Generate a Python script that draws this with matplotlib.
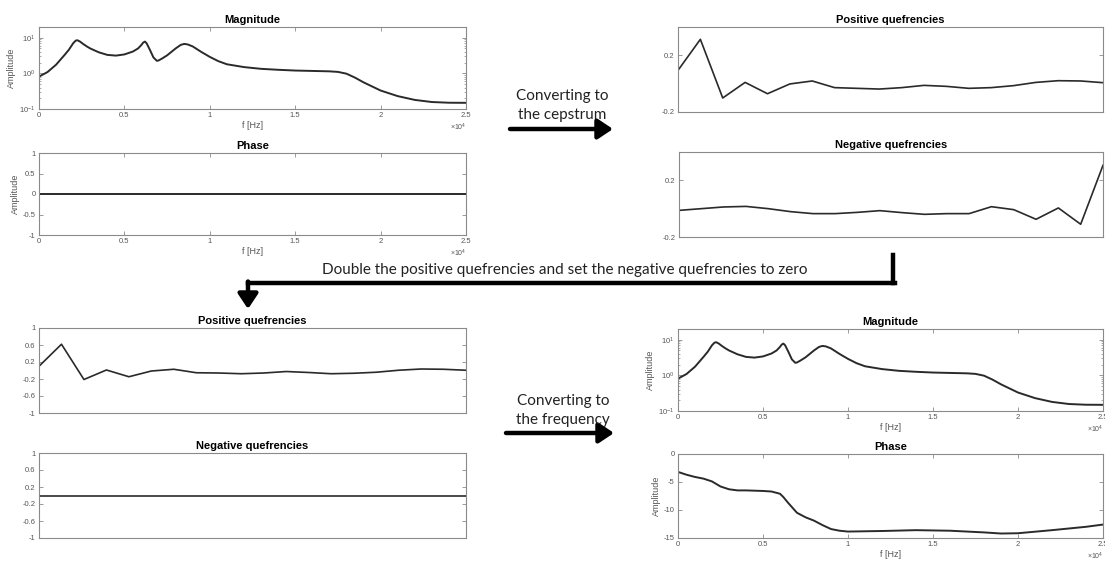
import matplotlib.pyplot as plt
from matplotlib.patches import FancyArrowPatch
from matplotlib.lines import Line2D

plt.rcParams['font.family'] = ['Liberation Sans', 'DejaVu Sans']
plt.rcParams['mathtext.fontset'] = 'custom'
plt.rcParams['mathtext.rm'] = 'Liberation Sans'
plt.rcParams['mathtext.it'] = 'Liberation Sans:italic'
plt.rcParams['axes.unicode_minus'] = False

# ---- dados ----
freq_mag = [0, 500, 1000, 1500, 1750, 2000, 2150, 2250, 2400, 2600, 2800, 3000,
            3500, 4000, 4500, 5000, 5500, 5800, 6000, 6100, 6200, 6300, 6500,
            6700, 6900, 7000, 7200, 7500, 8000, 8300, 8500, 8700, 9000, 9500,
            10000, 10500, 11000, 12000, 13000, 14000, 15000, 16000, 17000,
            17500, 18000, 18500, 19000, 19500, 20000, 21000, 22000, 23000,
            24000, 25000]
magnitude = [0.81, 1.09, 1.75, 3.3, 4.6, 7.0, 8.3, 8.5, 7.8, 6.6, 5.7, 5.0,
             3.9, 3.3, 3.15, 3.4, 4.1, 5.0, 6.3, 7.3, 7.8, 7.0, 4.5,
             2.8, 2.25, 2.3, 2.6, 3.2, 5.0, 6.3, 6.7, 6.5, 5.7, 4.0,
             2.9, 2.2, 1.8, 1.5, 1.34, 1.26, 1.2, 1.17, 1.14,
             1.1, 0.98, 0.76, 0.56, 0.43, 0.33, 0.23, 0.18, 0.157,
             0.15, 0.149]

freq_fase = [0, 500, 1000, 1500, 2000, 2500, 3000, 3500, 4000, 5000, 5500,
             6000, 6200, 6500, 7000, 7500, 8000, 8500, 9000, 9500, 10000,
             12000, 14000, 16000, 18000, 19000, 20000, 22000, 24000, 25000]
fase_final = [-3.2, -3.7, -4.1, -4.4, -4.9, -5.8, -6.3, -6.5, -6.5, -6.6, -6.7,
              -7.1, -7.7, -8.8, -10.5, -11.3, -11.9, -12.7, -13.4, -13.7, -13.85,
              -13.75, -13.6, -13.7, -14.0, -14.2, -14.15, -13.6, -13.0, -12.6]
fase_inicial = [0] * len(freq_fase)

quef_pos = [0.094, 0.313, -0.101, 0.009, -0.071, -0.002, 0.019, -0.028, -0.033, -0.038,
            -0.028, -0.012, -0.019, -0.033, -0.028, -0.014, 0.009, 0.021, 0.019, 0.007]
quef_neg = [-0.012, 0.0, 0.012, 0.016, 0.0, -0.021, -0.035, -0.035, -0.026, -0.014,
            -0.028, -0.04, -0.035, -0.035, 0.014, -0.007, -0.075, 0.005, -0.11, 0.306]
quef_pos_dobro = [0.1, 0.618, -0.212, 0.012, -0.147, -0.012, 0.029, -0.053, -0.059, -0.076,
                  -0.059, -0.024, -0.047, -0.076, -0.065, -0.041, 0.006, 0.035, 0.029, 0.006]
quef_neg_zero = [0] * 20
indices = list(range(20))

W, H = 1105, 563
COR_LINHA = '#2a2a2a'
COR_EIXO = '#8a8a8a'
COR_TEXTO = '#555555'


def caixa(x0, y0, x1, y1):
    return [x0 / W, 1 - y1 / H, (x1 - x0) / W, (y1 - y0) / H]


def px(x, y):
    return (x / W, 1 - y / H)


fig = plt.figure(figsize=(W / 100, H / 100), dpi=100)


def estilo(ax, titulo):
    ax.set_title(titulo, fontsize=8, fontweight='bold', pad=3)
    for s in ax.spines.values():
        s.set_color(COR_EIXO)
        s.set_linewidth(0.8)
    ax.tick_params(direction='in', length=3, width=0.6, colors=COR_EIXO,
                   labelcolor=COR_TEXTO, labelsize=5.5, top=True, right=True, pad=2.5)
    ax.tick_params(which='minor', direction='in', length=1.5, width=0.5,
                   colors=COR_EIXO, top=True, right=True)


def eixo_freq(ax):
    ax.set_xlim(0, 25000)
    ax.set_xticks([0, 5000, 10000, 15000, 20000, 25000])
    ax.set_xticklabels(['0', '0.5', '1', '1.5', '2', '2.5'])
    ax.set_xlabel('f [Hz]', fontsize=6.5, color=COR_TEXTO, labelpad=1)
    ax.set_ylabel('Amplitude', fontsize=6.5, color=COR_TEXTO, labelpad=2)
    ax.text(1.0, -0.22, r'$\times10^4$', transform=ax.transAxes, fontsize=5,
            color=COR_TEXTO, ha='right', va='center')


def eixo_quef(ax, ylim, ticks):
    ax.set_xlim(indices[0], indices[-1])
    ax.set_xticks([])
    ax.set_ylim(*ylim)
    ax.set_yticks(ticks)
    ax.set_yticklabels([('%g' % t) for t in ticks])


# Magnitude (acima, esquerda)
ax1 = fig.add_axes(caixa(39, 27, 466, 109))
ax1.semilogy(freq_mag, magnitude, color=COR_LINHA, lw=1.4)
ax1.set_ylim(0.1, 20)
estilo(ax1, 'Magnitude')
eixo_freq(ax1)

# Fase (acima, esquerda)
ax2 = fig.add_axes(caixa(39, 153, 466, 235))
ax2.plot(freq_fase, fase_inicial, color=COR_LINHA, lw=1.4)
ax2.set_ylim(-1, 1)
ax2.set_yticks([-1, -0.5, 0, 0.5, 1])
ax2.set_yticklabels(['-1', '-0.5', '0', '0.5', '1'])
estilo(ax2, 'Phase')
eixo_freq(ax2)

# Cepstro (acima, direita)
ax3 = fig.add_axes(caixa(678, 27, 1103, 112))
ax3.plot(indices, quef_pos, color=COR_LINHA, lw=1.2)
estilo(ax3, 'Positive quefrencies')
eixo_quef(ax3, (-0.2, 0.4), [-0.2, 0.2])

ax4 = fig.add_axes(caixa(679, 152, 1103, 237))
ax4.plot(indices, quef_neg, color=COR_LINHA, lw=1.2)
estilo(ax4, 'Negative quefrencies')
eixo_quef(ax4, (-0.2, 0.4), [-0.2, 0.2])

# Cepstro modificado (abaixo, esquerda)
ticks_q = [-1, -0.6, -0.2, 0.2, 0.6, 1]
ax5 = fig.add_axes(caixa(39, 328, 466, 413))
ax5.plot(indices, quef_pos_dobro, color=COR_LINHA, lw=1.2)
estilo(ax5, 'Positive quefrencies')
eixo_quef(ax5, (-0.5, 1), ticks_q)

ax6 = fig.add_axes(caixa(39, 453, 466, 538))
ax6.plot(indices, quef_neg_zero, color=COR_LINHA, lw=1.2)
estilo(ax6, 'Negative quefrencies')
eixo_quef(ax6, (-1, 1), ticks_q)

# Resultado (abaixo, direita)
ax7 = fig.add_axes(caixa(678, 329, 1103, 411))
ax7.semilogy(freq_mag, magnitude, color=COR_LINHA, lw=1.4)
ax7.set_ylim(0.1, 20)
estilo(ax7, 'Magnitude')
eixo_freq(ax7)

ax8 = fig.add_axes(caixa(678, 454, 1103, 538))
ax8.plot(freq_fase, fase_final, color=COR_LINHA, lw=1.4)
ax8.set_ylim(-15, 0)
ax8.set_yticks([-15, -10, -5, 0])
estilo(ax8, 'Phase')
eixo_freq(ax8)

# Setas e textos
fonte = 'Lato'
cor_anot = '#222222'
estilo_seta = '-|>,head_length=0.45,head_width=0.3'


def seta(p0, p1):
    fig.add_artist(FancyArrowPatch(px(*p0), px(*p1), transform=fig.transFigure,
                                   arrowstyle=estilo_seta, mutation_scale=20,
                                   lw=3.2, color='black', shrinkA=0, shrinkB=0))


fig.text(*px(562, 96), 'Converting to', ha='center', va='center', fontsize=11,
         family=fonte, color=cor_anot)
fig.text(*px(562, 115), 'the cepstrum', ha='center', va='center', fontsize=11,
         family=fonte, color=cor_anot)
seta((510, 129), (613, 129))

fig.text(*px(563, 401), 'Converting to', ha='center', va='center', fontsize=11,
         family=fonte, color=cor_anot)
fig.text(*px(563, 420), 'the frequency', ha='center', va='center', fontsize=11,
         family=fonte, color=cor_anot)
seta((506, 433), (614, 433))

fig.text(*px(565, 270), 'Double the positive quefrencies and set the negative quefrencies to zero',
         ha='center', va='center', fontsize=11, family=fonte, color=cor_anot)
x_v, y_h = 893, 283
fig.add_artist(Line2D([px(x_v, 255)[0], px(x_v, y_h)[0]], [px(x_v, 255)[1], px(x_v, y_h)[1]],
                      transform=fig.transFigure, color='black', lw=3.2))
fig.add_artist(Line2D([px(248, y_h)[0], px(x_v + 1.5, y_h)[0]], [px(248, y_h)[1], px(x_v, y_h)[1]],
                      transform=fig.transFigure, color='black', lw=3.2))
seta((248, y_h - 1.5), (248, 309))

fig.savefig('out.png', dpi=100)
